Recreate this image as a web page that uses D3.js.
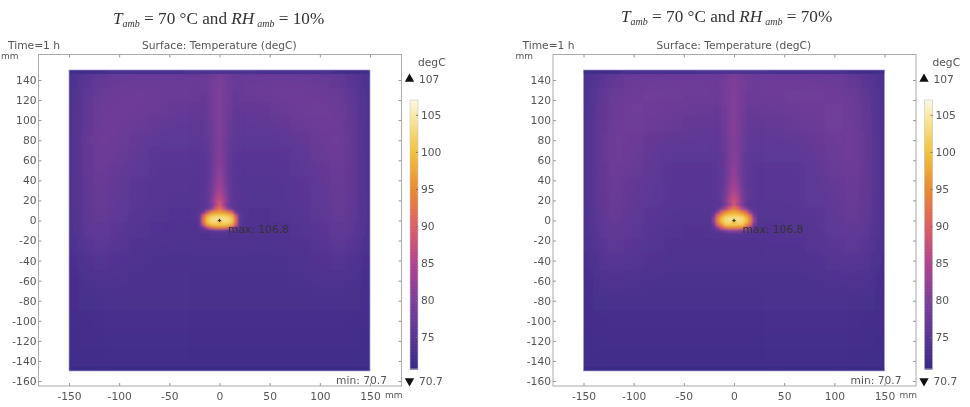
<!DOCTYPE html>
<html>
<head>
<meta charset="utf-8">
<script src="https://cdn.jsdelivr.net/npm/d3@7"></script>
<style>
body { margin: 0; background: #fff; }
svg { display: block; filter: blur(0.5px); }
text { font-family: "DejaVu Sans", sans-serif; fill: #555; font-size: 10.7px; }
text.title { font-family: "Liberation Serif", serif; fill: #333; font-size: 17.2px; }
</style>
</head>
<body>
<div id="chart"></div>
<script>
// tick labels
var xTicks = [-150, -100, -50, 0, 50, 100, 150];
var yTicks = [140, 120, 100, 80, 60, 40, 20, 0, -20, -40, -60, -80, -100, -120, -140, -160];
var barTicks = [105, 100, 95, 90, 85, 80, 75];

// colour table of the legend
var barStops = [70.7, 75, 80, 85, 90, 95, 100, 105, 107];
var barColors = ["#382a85", "#583694", "#7d3f9a", "#b0438f", "#dc5f64", "#e98a30", "#f2c23c", "#f7eaa5", "#fbf8e6"];

// centres of the cells (mm)
var fieldX = [-147, -135, -120, -100, -80, -60, -40, -20, 0, 20, 40, 60, 80, 100, 120, 135, 147];
var fieldY = [148, 140, 125, 110, 95, 80, 65, 50, 35, 20, 5, -10, -25, -40, -60, -80, -100, -120, -140, -148];
var plumeX = [-16, -10, -5, 0, 5, 10, 16];
var plumeY = [148, 135, 120, 105, 90, 75, 60, 48, 38, 30, 23, 17, 12];
var hotX = [-20, -16, -12, -8, -4, 0, 4, 8, 12, 16, 20];
var hotY = [16, 12, 8, 5, 2, -1, -4, -7, -10];
var edgeX = [-150, -75, 0, 75, 150];
var edgeTopY = [150.5, 148.5];
var edgeBottomY = [-148.5, -150.5];

// RH 10%
var fieldLeft = [
  [73, 74.5, 75.5, 76, 76, 76.5, 76.5, 76.5, 77, 76.5, 76.5, 76.5, 76, 76, 75.5, 74.5, 73],
  [73, 75.2, 76.8, 77.3, 77.5, 77.5, 77.5, 77.5, 77.5, 77.5, 77.5, 77.8, 77.8, 77.3, 76.8, 75.2, 73],
  [73, 75.5, 77.3, 77.8, 78, 77.8, 77.5, 77.5, 77.5, 77.5, 77.8, 78, 78, 77.8, 77.3, 75.5, 73],
  [73, 76, 77.8, 78, 77.8, 77, 76.5, 76.5, 76.5, 76.5, 76.5, 77.3, 78, 78.2, 77.8, 76, 73],
  [73, 76.3, 78, 78, 77.3, 76.5, 76, 76, 76, 76, 76, 76.5, 77.3, 78, 78, 76.3, 73],
  [73, 76.5, 78.2, 77.5, 76.3, 75.5, 75.5, 75.5, 75.5, 75.5, 75.5, 75.5, 76.3, 77.5, 78.2, 76.5, 73],
  [73, 76.5, 78, 77, 75.8, 75, 75, 75, 75, 75, 75, 75, 75.5, 77, 78, 76.5, 73],
  [73, 76.5, 78, 76.5, 75.5, 74.8, 74.8, 74.8, 75, 74.8, 74.8, 74.8, 75.5, 76.5, 78, 76.5, 73],
  [73, 76.3, 77.5, 76, 75, 74.5, 74.5, 74.5, 75, 74.5, 74.5, 74.5, 75, 76, 77.5, 76.3, 73],
  [73, 76.3, 77.2, 75.8, 75, 74.5, 74.3, 74.5, 75, 74.5, 74.3, 74.5, 75, 75.8, 77.2, 76.3, 73],
  [73, 76, 77, 75.5, 74.5, 74.2, 74, 74.2, 75, 74.2, 74, 74.2, 74.5, 75.5, 77, 76, 73],
  [73, 75.5, 76.5, 75, 74.2, 74, 73.8, 74, 74.2, 74, 73.8, 74, 74.2, 75, 76.5, 75.5, 73],
  [72.8, 75, 75.5, 74.5, 74, 73.6, 73.6, 73.6, 73.6, 73.6, 73.6, 73.6, 74, 74.5, 75.5, 75, 72.8],
  [72.6, 74, 74.5, 74, 73.5, 73.4, 73.4, 73.4, 73.4, 73.4, 73.4, 73.4, 73.5, 74, 74.5, 74, 72.6],
  [72.5, 73.2, 73.5, 73.5, 73.2, 73, 73, 73, 73, 73, 73, 73, 73.2, 73.5, 73.5, 73.2, 72.5],
  [72.5, 73, 73, 73, 72.8, 72.8, 72.8, 72.8, 72.8, 72.8, 72.8, 72.8, 72.8, 73, 73, 73, 72.5],
  [72.3, 72.5, 72.6, 72.6, 72.6, 72.6, 72.6, 72.6, 72.6, 72.6, 72.6, 72.6, 72.6, 72.6, 72.6, 72.5, 72.3],
  [72, 72.3, 72.3, 72.3, 72.3, 72.3, 72.3, 72.3, 72.3, 72.3, 72.3, 72.3, 72.3, 72.3, 72.3, 72.3, 72],
  [71.8, 72, 72, 72, 72, 72, 72, 72, 72, 72, 72, 72, 72, 72, 72, 72, 71.8],
  [71.6, 71.8, 71.8, 71.8, 71.8, 71.8, 71.8, 71.8, 71.8, 71.8, 71.8, 71.8, 71.8, 71.8, 71.8, 71.8, 71.6]
];

// RH 70%
var fieldRight = [
  [73, 74.5, 75.5, 76.5, 76.5, 77, 77, 77, 77.5, 77, 77, 77, 76.5, 76.5, 75.5, 74.5, 73],
  [73, 75, 76.8, 77.8, 78, 78, 78, 78, 78, 78, 78, 78, 78, 77.8, 76.8, 75, 73],
  [73, 75.7, 77.5, 78, 78.2, 78.2, 78, 78, 78, 78, 78, 78.2, 78.2, 78, 77.5, 75.7, 73],
  [73, 76, 77.8, 78.2, 78, 77.5, 77, 77, 77, 77, 77, 77.5, 78, 78.2, 77.8, 76, 73],
  [73, 76.3, 78, 78.2, 77.7, 77, 76.5, 76.5, 76.5, 76.5, 76.5, 77, 77.7, 78.2, 78, 76.3, 73],
  [73, 76.5, 78.2, 77.8, 76.8, 76, 76, 76, 76, 76, 76, 76, 76.8, 77.8, 78.2, 76.5, 73],
  [73, 76.5, 78.2, 77.5, 76.3, 75.5, 75.5, 75.5, 75.5, 75.5, 75.5, 75.5, 76.3, 77.5, 78.2, 76.5, 73],
  [73, 76.5, 78, 77, 76, 75.2, 75.2, 75.2, 75.5, 75.2, 75.2, 75.2, 76, 77, 78, 76.5, 73],
  [73, 76.5, 77.8, 76.5, 75.5, 75, 75, 75, 75.5, 75, 75, 75, 75.5, 76.5, 77.8, 76.5, 73],
  [73, 76.3, 77.5, 76.2, 75.5, 75, 74.8, 75, 75.5, 75, 74.8, 75, 75.5, 76.2, 77.5, 76.3, 73],
  [73, 76, 77.3, 76, 75, 74.5, 74.5, 74.5, 75.5, 74.5, 74.5, 74.5, 75, 76, 77.3, 76, 73],
  [73, 75.5, 76.5, 75.5, 74.5, 74.2, 74, 74.2, 74.5, 74.2, 74, 74.2, 74.5, 75.5, 76.5, 75.5, 73],
  [72.8, 75, 76, 75, 74.5, 74, 74, 74, 74, 74, 74, 74, 74.5, 75, 76, 75, 72.8],
  [72.6, 74.2, 75, 74.5, 74, 73.6, 73.6, 73.6, 73.6, 73.6, 73.6, 73.6, 74, 74.5, 75, 74.2, 72.6],
  [72.5, 73.5, 74, 73.5, 73.2, 73.2, 73.2, 73.2, 73.2, 73.2, 73.2, 73.2, 73.2, 73.5, 74, 73.5, 72.5],
  [72.5, 73, 73, 73, 72.9, 72.9, 72.9, 72.9, 72.9, 72.9, 72.9, 72.9, 72.9, 73, 73, 73, 72.5],
  [72.3, 72.5, 72.6, 72.6, 72.6, 72.6, 72.6, 72.6, 72.6, 72.6, 72.6, 72.6, 72.6, 72.6, 72.6, 72.5, 72.3],
  [72, 72.3, 72.3, 72.3, 72.3, 72.3, 72.3, 72.3, 72.3, 72.3, 72.3, 72.3, 72.3, 72.3, 72.3, 72.3, 72],
  [71.8, 72, 72, 72, 72, 72, 72, 72, 72, 72, 72, 72, 72, 72, 72, 72, 71.8],
  [71.6, 71.8, 71.8, 71.8, 71.8, 71.8, 71.8, 71.8, 71.8, 71.8, 71.8, 71.8, 71.8, 71.8, 71.8, 71.8, 71.6]
];

// the rising plume above the source
var plumeLeft = [
  [77, 77.5, 78, 78.5, 78, 77.5, 77],
  [77.3, 78, 79, 80, 79, 78, 77.3],
  [76.8, 77.8, 79, 80.5, 79, 77.8, 76.8],
  [76.3, 77.3, 79, 80.5, 79, 77.3, 76.3],
  [76, 77, 78.8, 80.5, 78.8, 77, 76],
  [75.5, 76.5, 78.5, 80.5, 78.5, 76.5, 75.5],
  [75, 76, 78.5, 81, 78.5, 76, 75],
  [75, 76, 79, 82, 79, 76, 75],
  [75, 76, 79.5, 83.5, 79.5, 76, 75],
  [75, 76.5, 80.5, 85, 80.5, 76.5, 75],
  [75, 76.5, 82, 87, 82, 76.5, 75],
  [75, 77, 84, 89, 84, 77, 75],
  [75, 78, 87, 91, 87, 78, 75]
];
var plumeRight = [
  [77.5, 78, 78.5, 79, 78.5, 78, 77.5],
  [77.8, 78.5, 79.5, 80.5, 79.5, 78.5, 77.8],
  [77.3, 78.3, 79.5, 81, 79.5, 78.3, 77.3],
  [76.8, 77.8, 79.5, 81, 79.5, 77.8, 76.8],
  [76.5, 77.5, 79.3, 81, 79.3, 77.5, 76.5],
  [76, 77, 79, 81, 79, 77, 76],
  [75.5, 76.5, 79, 81.5, 79, 76.5, 75.5],
  [75.5, 76.5, 79.5, 82.5, 79.5, 76.5, 75.5],
  [75.5, 76.5, 80.5, 84, 80.5, 76.5, 75.5],
  [75.5, 77, 81.5, 85.5, 81.5, 77, 75.5],
  [75.5, 77, 83, 87.5, 83, 77, 75.5],
  [75.5, 78, 85, 90, 85, 78, 75.5],
  [76, 80, 88, 92, 88, 80, 76]
];

// the hot spot round the source, finer cells
var hotLeft = [
  [74.5, 75, 76, 78, 84, 89, 84, 78, 76, 75, 74.5],
  [74.5, 75, 76.5, 81, 88, 92, 88, 81, 76.5, 75, 74.5],
  [75, 78, 88, 94, 96, 97, 96, 94, 90, 78, 75],
  [76, 89, 97, 100, 101, 101, 101, 100, 98, 89, 76],
  [76, 92, 100, 103, 104, 104, 104, 103, 101, 92, 76],
  [76, 92, 100, 103, 103, 98, 103, 103, 101, 92, 76],
  [76, 89, 97, 100, 101, 101, 101, 100, 98, 90, 76],
  [75, 79, 87, 92, 94, 94, 94, 92, 88, 80, 75],
  [74.5, 74.5, 75, 76, 77, 77, 77, 76, 75, 74.5, 74.5]
];
var hotRight = [
  [75, 75, 76, 79, 84, 88, 84, 79, 76, 75, 75],
  [75, 76, 80, 85, 90, 93, 90, 85, 80, 76, 75],
  [76, 82, 91, 95, 97, 98, 97, 95, 91, 82, 76],
  [78, 91, 96, 100, 101, 101, 101, 100, 96, 91, 78],
  [82, 94, 100, 103, 104, 104, 104, 103, 100, 94, 82],
  [82, 94, 100, 103, 103, 98, 103, 103, 100, 94, 82],
  [78, 91, 96, 101, 101, 101, 101, 101, 96, 91, 78],
  [76, 83, 90, 94, 95, 95, 95, 94, 90, 83, 76],
  [75, 76, 78, 80, 82, 82, 82, 80, 78, 76, 75]
];

// thin darker rim at the top and bottom of the surface
var edgeTop = [
  [71, 71.5, 72, 71.5, 71],
  [72, 73, 73.5, 73, 72]
];
var edgeBottom = [
  [71.2, 71.2, 71.2, 71.2, 71.2],
  [70.7, 70.7, 70.7, 70.7, 70.7]
];

var width = 970, height = 407;

var color = d3.scaleLinear().domain(barStops).range(barColors).clamp(true);

// same mm to pixel mapping in both panels, second one is shifted
var x = d3.scaleLinear().domain([-150, 150]).range([69, 370]);
var y = d3.scaleLinear().domain([-160, 140]).range([381, 80]);
var barScale = d3.scaleLinear().domain([70.7, 107]).range([369, 100]);

var svg = d3.select("#chart").append("svg")
  .attr("width", width)
  .attr("height", height);

var defs = svg.append("defs");
function addBlur(id, dev) {
  defs.append("filter").attr("id", id)
    .attr("x", "-30%").attr("y", "-30%").attr("width", "160%").attr("height", "160%")
    .append("feGaussianBlur").attr("stdDeviation", dev);
}
addBlur("soft", 9);
addBlur("softPlume", 2.6);
addBlur("softHot", 1.1);
addBlur("softEdge", 0.6);

defs.append("clipPath").attr("id", "fieldClip")
  .append("rect")
  .attr("x", x(-150)).attr("y", y(150))
  .attr("width", x(150) - x(-150)).attr("height", y(-150) - y(150));

// cell limits halfway between centres, outer ones run past the clip when asked
function edges(centres, pad) {
  var out = [];
  centres.forEach(function(c, i) {
    var before = i == 0 ? c + (c - centres[1]) * pad : (c + centres[i - 1]) / 2;
    var after = i == centres.length - 1 ? c + (c - centres[i - 1]) * pad : (c + centres[i + 1]) / 2;
    out.push([before, after]);
  });
  return out;
}

function drawCells(g, xs, ys, rows, pad) {
  var xe = edges(xs, pad), ye = edges(ys, pad);
  rows.forEach(function(row, j) {
    g.selectAll("rect.r" + j)
      .data(row).enter().append("rect")
      .attr("class", "r" + j)
      .attr("x", function(d, i) { return x(xe[i][0]); })
      .attr("y", y(ye[j][0]))
      .attr("width", function(d, i) { return x(xe[i][1]) - x(xe[i][0]) + 0.5; })
      .attr("height", y(ye[j][1]) - y(ye[j][0]) + 0.5)
      .style("fill", function(d) { return color(d); });
  });
}

function drawPanel(dx, titleDx, titleY, rh, field, plume, hot) {
  var p = svg.append("g").attr("transform", "translate(" + dx + ",0)");

  // title with subscripts
  var t = svg.append("text").attr("class", "title").attr("x", 113 + titleDx).attr("y", titleY);
  t.append("tspan").style("font-style", "italic").text("T");
  t.append("tspan").style("font-style", "italic").style("font-size", "10px").attr("dy", 3).text("amb");
  t.append("tspan").attr("dy", -3).text(" = 70 °C and ");
  t.append("tspan").style("font-style", "italic").text("RH");
  t.append("tspan").style("font-style", "italic").style("font-size", "10px").attr("dy", 3).attr("dx", 3).text("amb");
  t.append("tspan").attr("dy", -3).text(" = " + rh);

  p.append("text").attr("x", 8).attr("y", 49).text("Time=1 h");
  p.append("text").attr("x", 142).attr("y", 49).text("Surface: Temperature (degC)");
  p.append("text").attr("x", 1).attr("y", 59).style("font-size", "9px").text("mm");

  // frame
  p.append("rect")
    .attr("x", 38.5).attr("y", 54.5).attr("width", 363).attr("height", 331.5)
    .style("fill", "none").style("stroke", "#aaa").style("stroke-width", 1);

  // temperature surface
  var clip = p.append("g").attr("clip-path", "url(#fieldClip)");
  drawCells(clip.append("g").attr("filter", "url(#soft)"), fieldX, fieldY, field, 3);
  drawCells(clip.append("g").attr("filter", "url(#softPlume)"), plumeX, plumeY, plume, 0.5);
  drawCells(clip.append("g").attr("filter", "url(#softHot)"), hotX, hotY, hot, 0.5);
  drawCells(clip.append("g").attr("filter", "url(#softEdge)"), edgeX, edgeTopY, edgeTop, 1);
  drawCells(clip.append("g").attr("filter", "url(#softEdge)"), edgeX, edgeBottomY, edgeBottom, 1);

  p.append("rect")
    .attr("x", x(-150)).attr("y", y(150))
    .attr("width", x(150) - x(-150)).attr("height", y(-150) - y(150))
    .style("fill", "none").style("stroke", "#a79fd0").style("stroke-width", 0.7);

  // max marker
  p.append("path")
    .attr("d", d3.symbol().type(d3.symbolCross).size(6))
    .attr("transform", "translate(" + x(0) + "," + y(0) + ")")
    .style("fill", "#333");

  // axes, ticks point inwards
  var plain = function(d) { return String(d); };
  var bottom = p.append("g").attr("transform", "translate(0,386)")
    .call(d3.axisBottom(x).tickValues(xTicks).tickSizeInner(-3).tickSizeOuter(0).tickPadding(6).tickFormat(plain));
  var top = p.append("g").attr("transform", "translate(0,54.5)")
    .call(d3.axisTop(x).tickValues(xTicks).tickSizeInner(-3).tickSizeOuter(0).tickFormat(""));
  var left = p.append("g").attr("transform", "translate(38.5,0)")
    .call(d3.axisLeft(y).tickValues(yTicks).tickSizeInner(-3).tickSizeOuter(0).tickPadding(2).tickFormat(plain));
  var right = p.append("g").attr("transform", "translate(401.5,0)")
    .call(d3.axisRight(y).tickValues(yTicks).tickSizeInner(-3).tickSizeOuter(0).tickFormat(""));
  [bottom, top, left, right].forEach(function(a) {
    a.select(".domain").remove();
    a.selectAll("line").style("stroke", "#999");
    a.attr("font-family", null).attr("font-size", null);
  });

  p.append("text").attr("x", 385).attr("y", 398).style("font-size", "9px").text("mm");
  p.append("text").attr("x", 228).attr("y", 233).style("fill", "#333").text("max: 106.8");
  p.append("text").attr("x", 387).attr("y", 384).attr("text-anchor", "end").text("min: 70.7");

  // colour legend
  var barX = 410, barW = 8;
  p.selectAll("rect.bar")
    .data(d3.range(70.7, 107, 0.1)).enter().append("rect")
    .attr("class", "bar")
    .attr("x", barX).attr("width", barW)
    .attr("y", function(d) { return barScale(d + 0.1); })
    .attr("height", function(d) { return barScale(d) - barScale(d + 0.1) + 0.6; })
    .style("fill", function(d) { return color(d); });
  p.append("rect")
    .attr("x", barX).attr("y", barScale(107)).attr("width", barW).attr("height", barScale(70.7) - barScale(107))
    .style("fill", "none").style("stroke", "#c9c9c9").style("stroke-width", 0.6);

  var barAxis = p.append("g").attr("transform", "translate(" + (barX + barW) + ",0)")
    .call(d3.axisRight(barScale).tickValues(barTicks).tickSizeInner(-2).tickSizeOuter(0).tickPadding(3));
  barAxis.select(".domain").remove();
  barAxis.selectAll("line").style("stroke", "#777");
  barAxis.attr("font-family", null).attr("font-size", null);

  p.append("text").attr("x", 418).attr("y", 66).text("degC");
  p.append("text").attr("x", 419).attr("y", 82.5).text("107");
  p.append("text").attr("x", 419).attr("y", 385).text("70.7");
  p.append("path")
    .attr("d", d3.symbol().type(d3.symbolTriangle).size(38))
    .attr("transform", "translate(409.5,79)")
    .style("fill", "#111");
  p.append("path")
    .attr("d", d3.symbol().type(d3.symbolTriangle).size(38))
    .attr("transform", "translate(409.5,381) rotate(180)")
    .style("fill", "#111");
}

drawPanel(0, 0, 23.5, "10%", fieldLeft, plumeLeft, hotLeft);
drawPanel(514.5, 508, 21.5, "70%", fieldRight, plumeRight, hotRight);
</script>
</body>
</html>
